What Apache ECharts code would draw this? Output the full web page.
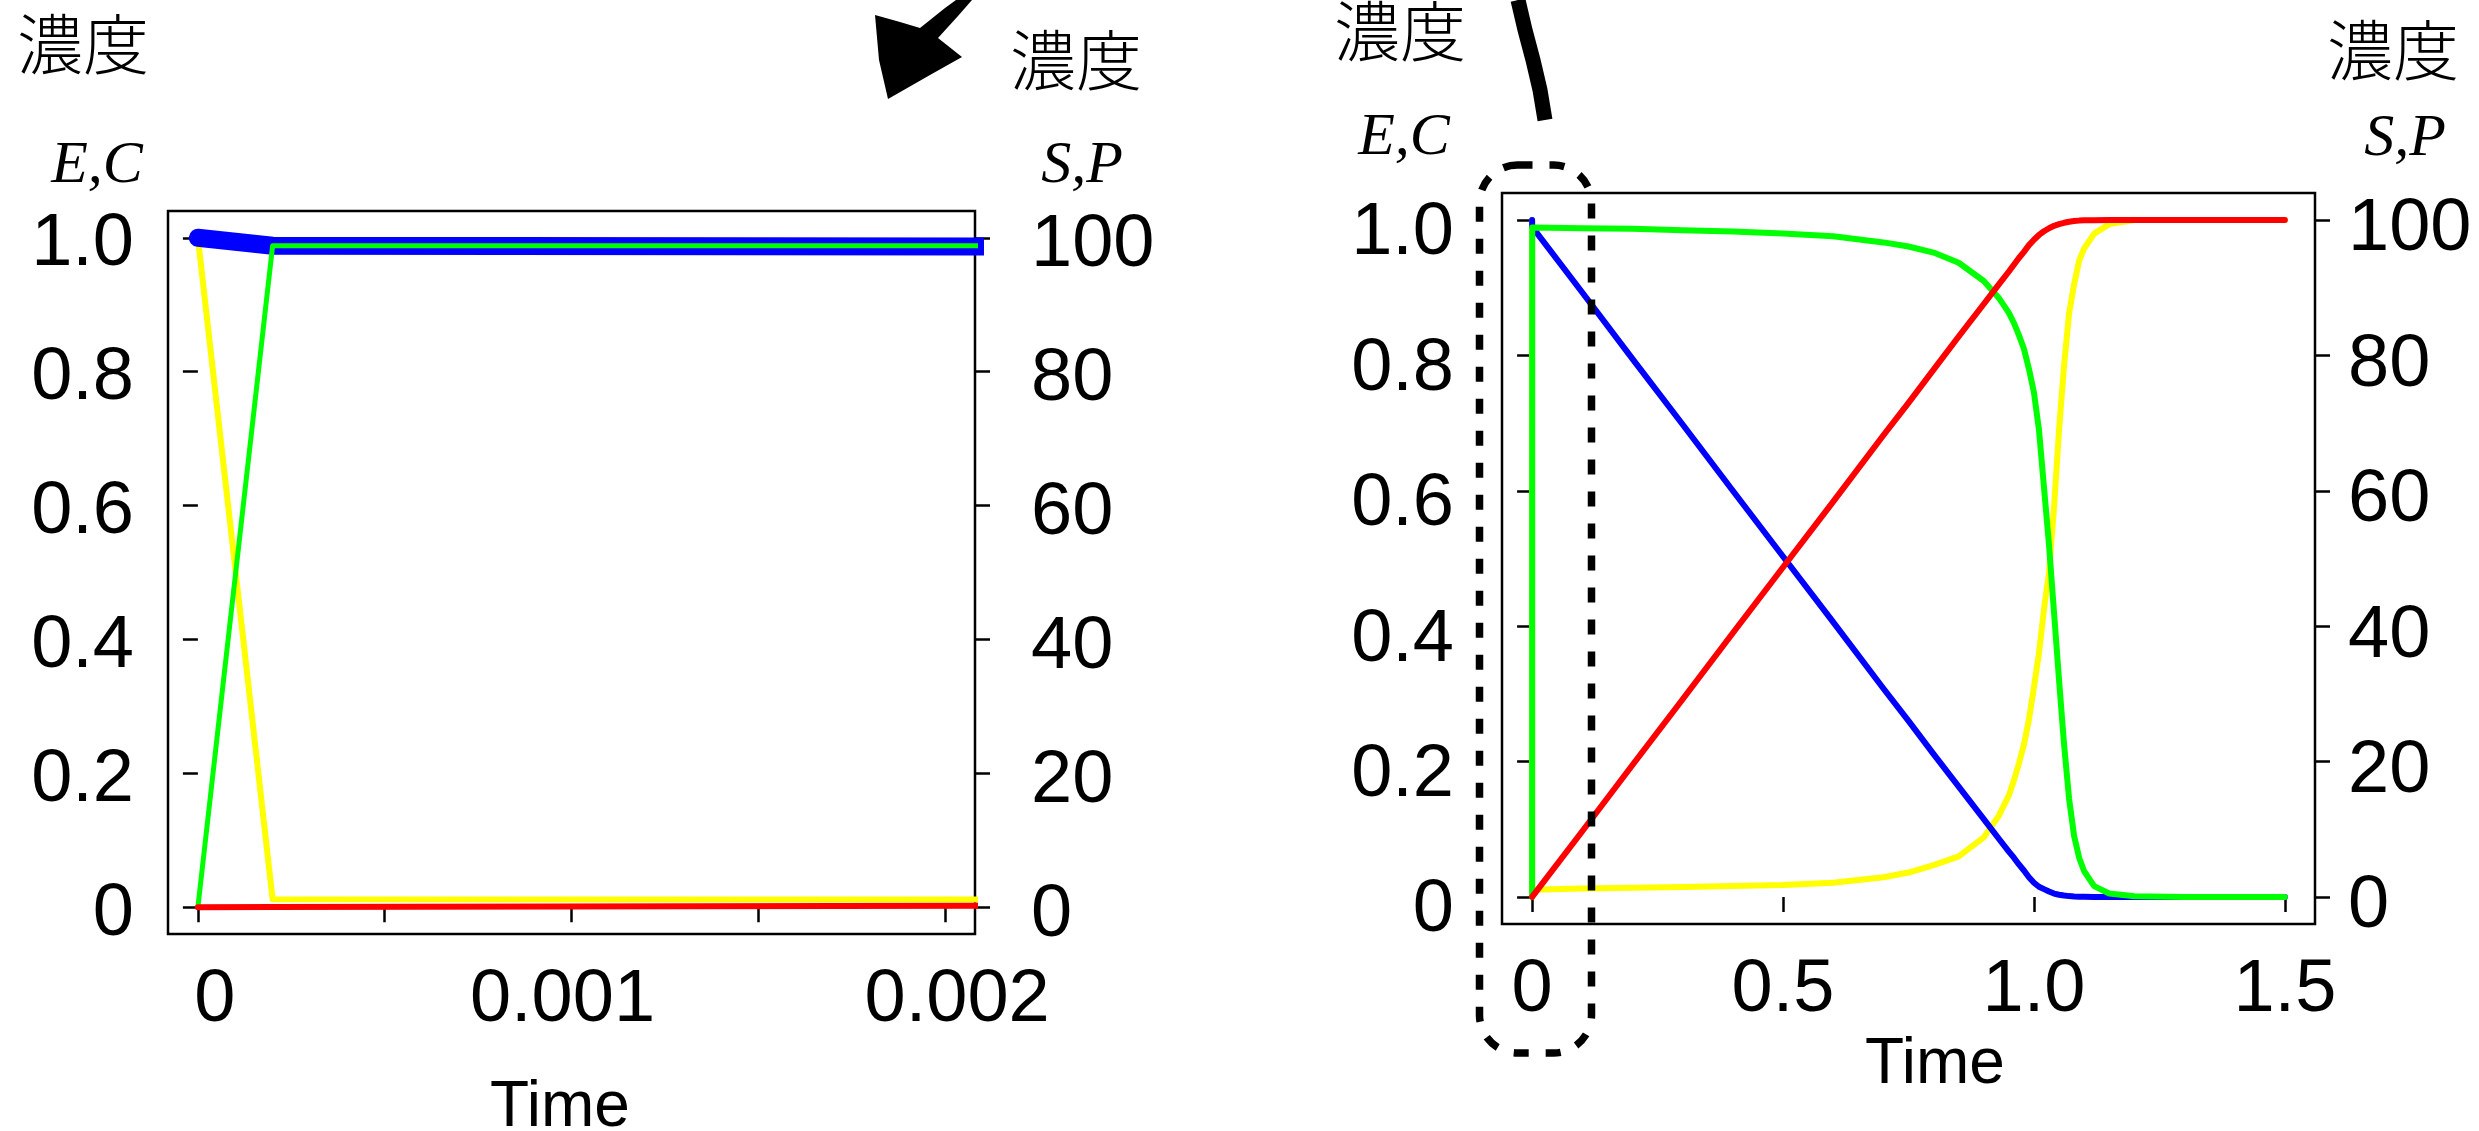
<!DOCTYPE html>
<html>
<head>
<meta charset="utf-8">
<title>濃度の時間変化</title>
<script src="https://cdn.jsdelivr.net/npm/echarts@6/dist/echarts.min.js"></script>
<style>
  html, body { margin: 0; padding: 0; background: #fff; }
  #chart { width: 2479px; height: 1131px; }
</style>
</head>
<body>
<div id="chart"></div>
<script>
// 左：t = 0〜0.002 の拡大
const timeShort = [0, 0.0002, 0.0022];
const eShort = [1.0, 0.0119, 0.0117];
const cShort = [0, 0.988, 0.988];
const sShort = [100, 98.8, 98.7];
const pShort = [0, 0.02, 0.22];

// 右：t = 0〜1.5
const timeLong = [0, 0.0002, 0.1, 0.2, 0.3, 0.4, 0.5, 0.6, 0.7, 0.75, 0.8, 0.85, 0.9, 0.93, 0.95, 0.96, 0.97, 0.98, 0.99,
  1.0, 1.01, 1.02, 1.03, 1.04, 1.05, 1.06, 1.07, 1.08, 1.09, 1.1, 1.12, 1.15, 1.2, 1.3, 1.5];
const eLong = [1.0, 0.0105, 0.0125, 0.0135, 0.0145, 0.016, 0.0175, 0.021, 0.029, 0.036, 0.047, 0.06, 0.088, 0.12, 0.15, 0.172, 0.197, 0.225, 0.262,
  0.31, 0.36, 0.425, 0.48, 0.575, 0.69, 0.785, 0.862, 0.905, 0.94, 0.958, 0.98, 0.994, 1.0, 1.0, 1.0];
const cLong = [0, 0.989, 0.988, 0.987, 0.985, 0.983, 0.98, 0.976, 0.967, 0.961, 0.952, 0.937, 0.91, 0.885, 0.863, 0.848, 0.83, 0.81, 0.78,
  0.745, 0.69, 0.605, 0.52, 0.42, 0.32, 0.225, 0.145, 0.09, 0.058, 0.038, 0.016, 0.005, 0.001, 0, 0];
const sLong = [100, 98.99, 89.3, 79.5, 69.8, 60.0, 50.3, 40.6, 30.8, 26.0, 21.1, 16.3, 11.5, 8.6, 6.7, 5.8, 4.8, 3.9, 2.9,
  2.1, 1.5, 1.15, 0.8, 0.5, 0.32, 0.2, 0.12, 0.07, 0.04, 0.02, 0.005, 0, 0, 0, 0];
const pLong = [0, 0.02, 9.7, 19.5, 29.2, 39.0, 48.7, 58.4, 68.2, 73.0, 77.9, 82.8, 87.6, 90.5, 92.4, 93.4, 94.4, 95.3, 96.3,
  97.1, 97.8, 98.35, 98.8, 99.15, 99.4, 99.6, 99.75, 99.85, 99.92, 99.96, 99.99, 100, 100, 100, 100];

// 目盛り
const ecTicks = [0, 0.2, 0.4, 0.6, 0.8, 1.0];
const spTicks = [0, 20, 40, 60, 80, 100];
const shortTicks = [0, 0.0005, 0.001, 0.0015, 0.002];
const shortLabels = [0, 0.001, 0.002];
const longTicks = [0, 0.5, 1.0, 1.5];

const numFont = '"Liberation Sans", sans-serif';
const numSize = 74;
const cjkFont = '"Noto Sans CJK JP", sans-serif';

function pairs(t, v) {
  return t.map(function (x, i) { return [x, v[i]]; });
}

function tickStyle(values) {
  return { show: true, inside: false, length: 15, customValues: values, lineStyle: { color: '#000', width: 2.5 } };
}

function fmt1(v) { return v === 0 ? '0' : v.toFixed(1); }
function fmtInt(v) { return String(Math.round(v)); }
// 左図の時間ラベルは元図で少しずれている
function fmtShort(v) {
  if (v === 0) return '{z|0}';
  if (v === 0.001) return '{m|0.001}';
  return '{t|0.002}';
}

function richOf(pads) {
  const r = {};
  Object.keys(pads).forEach(function (k) {
    r[k] = { fontFamily: numFont, fontSize: numSize, color: '#000', padding: pads[k] };
  });
  return r;
}

function xAxisOf(gridIndex, min, max, ticks, labels, fmt, rich, nameGap, namePad) {
  return {
    type: 'value', gridIndex: gridIndex, min: min, max: max, position: 'bottom',
    axisLine: { show: false }, splitLine: { show: false },
    axisTick: tickStyle(ticks),
    axisLabel: { customValues: labels, margin: 30, color: '#000', fontFamily: numFont, fontSize: numSize, formatter: fmt, rich: rich },
    name: 'Time', nameLocation: 'middle', nameGap: nameGap,
    nameTextStyle: { color: '#000', fontFamily: numFont, fontSize: 64, padding: namePad }
  };
}

// 元図の縦軸ラベルは目盛りより少し下に付いている
function yAxisOf(gridIndex, pos, min, max, ticks, fmt, margin, dy) {
  return {
    type: 'value', gridIndex: gridIndex, position: pos, min: min, max: max,
    axisLine: { show: false }, splitLine: { show: false },
    axisTick: tickStyle(ticks),
    axisLabel: {
      customValues: ticks, margin: margin, color: '#000', fontFamily: numFont, fontSize: numSize,
      formatter: function (v) { return '{a|' + fmt(v) + '}'; },
      rich: richOf({ a: [dy, 0, 0, 0] })
    }
  };
}

function line(xi, yi, data, color, width) {
  return {
    type: 'line', xAxisIndex: xi, yAxisIndex: yi, data: data,
    showSymbol: false, symbol: 'none', smooth: false,
    lineStyle: { color: color, width: width, cap: 'round', join: 'round' },
    silent: true
  };
}

function label(text, x, y, size, font, style) {
  return {
    type: 'text', x: x, y: y, z: 50,
    style: { text: text, fill: '#000', font: style + ' ' + size + 'px ' + font, align: 'center', verticalAlign: 'middle' }
  };
}

const YELLOW = '#ffff00', BLUE = '#0000ff', GREEN = '#00ff00', RED = '#ff0000';
const serif = '"Liberation Serif", serif';

const chart = echarts.init(document.getElementById('chart'));
chart.setOption({
  animation: false,
  backgroundColor: '#fff',
  grid: [
    { left: 168, top: 211, width: 807, height: 723, show: true, borderColor: '#000', borderWidth: 2.5, outerBoundsMode: 'none', containLabel: false },
    { left: 1502, top: 193, width: 813, height: 731, show: true, borderColor: '#000', borderWidth: 2.5, outerBoundsMode: 'none', containLabel: false }
  ],
  xAxis: [
    xAxisOf(0, -0.00008, 0.00208, shortTicks, shortLabels, fmtShort,
      richOf({ z: [0, 0, 0, 34], m: [0, 18, 0, 0], t: [0, 0, 0, 24] }), 142, [0, 23, 0, 0]),
    xAxisOf(1, -0.06, 1.56, longTicks, longTicks, fmt1, {}, 106, [0, 0, 0, 53])
  ],
  yAxis: [
    yAxisOf(0, 'left', -0.04, 1.04, ecTicks, fmt1, 34, 14),
    yAxisOf(0, 'right', -4, 104, spTicks, fmtInt, 56, 16),
    yAxisOf(1, 'left', -0.04, 1.04, ecTicks, fmt1, 48, 28),
    yAxisOf(1, 'right', -4, 104, spTicks, fmtInt, 33, 20)
  ],
  series: [
    line(0, 0, pairs(timeShort, eShort), YELLOW, 6),
    line(0, 1, pairs(timeShort, sShort), BLUE, 18),
    line(0, 0, pairs(timeShort, cShort), GREEN, 5),
    line(0, 1, pairs(timeShort, pShort), RED, 6),
    line(1, 2, pairs(timeLong, eLong), YELLOW, 6),
    line(1, 3, pairs(timeLong, sLong), BLUE, 6),
    line(1, 2, pairs(timeLong, cLong), GREEN, 6),
    line(1, 3, pairs(timeLong, pLong), RED, 6)
  ],
  graphic: [
    label('濃度', 83, 44, 66, cjkFont, '300'),
    label('濃度', 1076, 60, 66, cjkFont, '300'),
    label('濃度', 1400, 31, 66, cjkFont, '300'),
    label('濃度', 2393, 50, 66, cjkFont, '300'),
    label('E,C', 97, 166, 60, serif, 'italic'),
    label('S,P', 1082, 166, 60, serif, 'italic'),
    label('E,C', 1404, 138, 60, serif, 'italic'),
    label('S,P', 2405, 139, 60, serif, 'italic'),
    // 破線の角丸枠
    {
      type: 'rect', z: 60,
      shape: { x: 1479.5, y: 165, width: 112, height: 888, r: 38 },
      style: { fill: null, stroke: '#000', lineWidth: 7.5, lineDash: [15, 17] }
    },
    // 手描きの矢印
    {
      type: 'polygon', z: 60,
      shape: { points: [[875, 15], [900, 22], [920, 28], [945, 8], [956, 0], [972, 0], [958, 16], [938, 38], [962, 57], [930, 75], [888, 99], [879, 60]] },
      style: { fill: '#000' }
    },
    {
      type: 'polyline', z: 60,
      shape: { points: [[1518, 0], [1525, 30], [1533, 60], [1540, 90], [1545, 120]] },
      style: { stroke: '#000', lineWidth: 15, fill: null }
    }
  ]
});
</script>
</body>
</html>
